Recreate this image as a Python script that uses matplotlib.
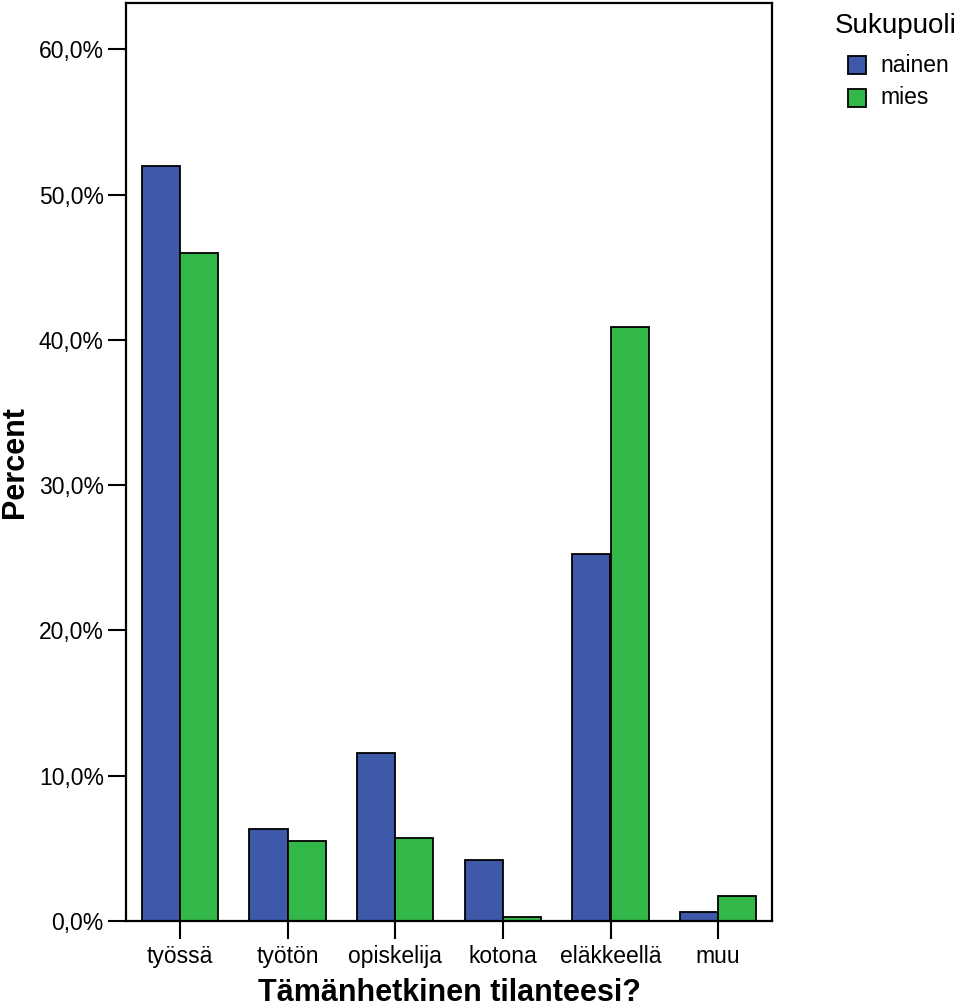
import matplotlib
matplotlib.use("Agg")
import matplotlib.pyplot as plt
from matplotlib.patches import Rectangle
import numpy as np

categories = ["työssä", "työtön", "opiskelija", "kotona", "eläkkeellä", "muu"]
nainen = [52.0, 6.3, 11.6, 4.2, 25.3, 0.6]
mies = [46.0, 5.5, 5.7, 0.3, 40.9, 1.7]
series_names = ["nainen", "mies"]
series_colors = ["#3e58aa", "#32b848"]
yticks = [0, 10, 20, 30, 40, 50, 60]
ytick_labels = ["0,0%", "10,0%", "20,0%", "30,0%", "40,0%", "50,0%", "60,0%"]

plt.rcParams['font.family'] = ['Liberation Sans', 'DejaVu Sans']

W, H = 960, 1006
fig = plt.figure(figsize=(W/100, H/100), dpi=100)
ax = fig.add_axes([126/W, 1-921/H, (772-126)/W, (921-3)/H])

x = np.arange(len(categories))
w = 0.355
b1 = ax.bar(x - w/2, nainen, w, color=series_colors[0], edgecolor="black", linewidth=1.3, label=series_names[0])
b2 = ax.bar(x + w/2, mies, w, color=series_colors[1], edgecolor="black", linewidth=1.3, label=series_names[1])

ax.set_xlim(-0.5, len(categories) - 0.5)
ax.set_ylim(0, 63.2)
ax.set_yticks(yticks)
ax.set_yticklabels(ytick_labels, fontsize=16.5)
ax.set_xticks(x)
ax.set_xticklabels(categories, fontsize=16.5)
ax.tick_params(axis='both', length=13, width=1.5, direction='out', color='black')
ax.tick_params(axis='y', pad=3)
ax.tick_params(axis='x', pad=4.5)
for s in ax.spines.values():
    s.set_linewidth(1.6)

ax.set_xlabel("Tämänhetkinen tilanteesi?", fontsize=22, fontweight='bold', labelpad=7)
fig.text(0.016, 1-462/H, "Percent", rotation=90, fontsize=22, fontweight='bold',
         ha='center', va='center')

# legend drawn in figure pixel positions
fig.text(835/W, 1-26/H, "Sukupuoli", fontsize=20, ha='left', va='center')
for i, (name, col) in enumerate(zip(series_names, series_colors)):
    yc = 65 + i*33
    fig.patches.append(Rectangle((848/W, 1-(yc+9)/H), 18/W, 18/H, transform=fig.transFigure,
                                 facecolor=col, edgecolor='black', linewidth=1.3))
    fig.text(880/W, 1-yc/H, name, fontsize=16.5, ha='left', va='center')

fig.savefig("out.png", dpi=100)
